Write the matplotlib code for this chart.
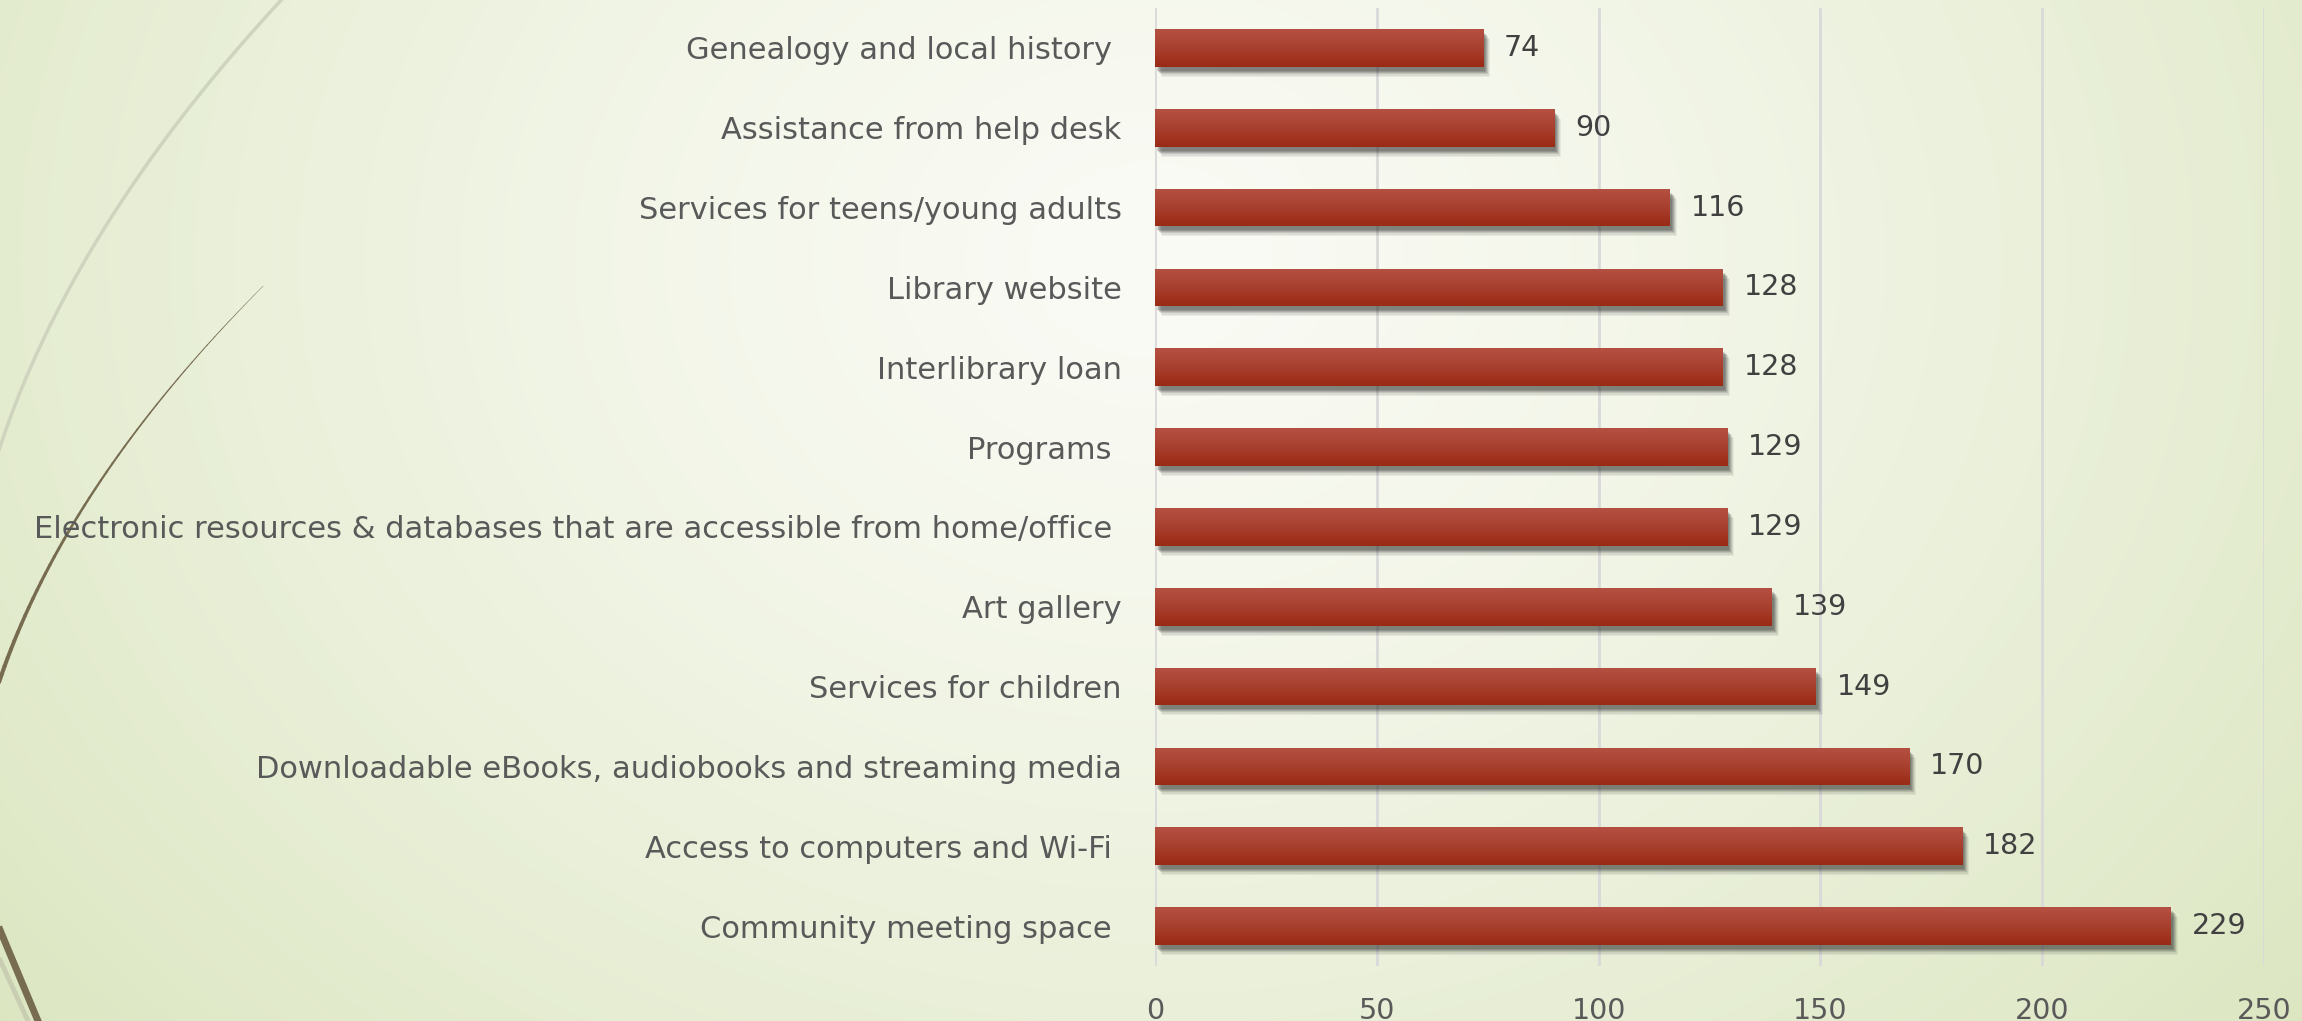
import numpy as np
import matplotlib
matplotlib.use('Agg')
import matplotlib.pyplot as plt
from matplotlib.transforms import ScaledTranslation

# Survey data (top to bottom as shown)
categories = [
    "Genealogy and local history ",
    "Assistance from help desk",
    "Services for teens/young adults",
    "Library website",
    "Interlibrary loan",
    "Programs ",
    "Electronic resources & databases that are accessible from home/office ",
    "Art gallery",
    "Services for children",
    "Downloadable eBooks, audiobooks and streaming media",
    "Access to computers and Wi-Fi ",
    "Community meeting space ",
]
values = [74, 90, 116, 128, 128, 129, 129, 139, 149, 170, 182, 229]
xticks = [0, 50, 100, 150, 200, 250]

W, H = 2302, 1021
DPI = 100
plt.rcParams['font.family'] = ['DejaVu Sans']

fig = plt.figure(figsize=(W / DPI, H / DPI), dpi=DPI)

# background: soft radial gradient, pale green
bg = fig.add_axes([0, 0, 1, 1], zorder=-10)
yy, xx = np.mgrid[0:H, 0:W]
r = np.sqrt(((xx - 1150) / 1.25) ** 2 + (yy - 260) ** 2) / 1250
r = np.clip(r, 0, 1)
inner = np.array([250, 251, 245]) / 255
outer = np.array([218, 229, 190]) / 255
img = inner + (outer - inner) * r[..., None] ** 1.3
bg.imshow(img, aspect='auto', extent=(0, W, H, 0))

# decorative wisps on the left (pixel positions of the template artwork)
light_y = [0, 97, 180, 250, 290, 383, 430]
light_x = [281, 200, 133, 90, 67, 33, 0]
ys = np.linspace(0, 460, 200)
bg.plot(np.polyval(np.polyfit(light_y, light_x, 2), ys), ys, color='#cfd4bf', lw=2.5)

dark_y = [286, 363, 390, 450, 483, 533, 600, 680]
dark_x = [260, 200, 167, 117, 100, 67, 33, 0]
cf = np.polyfit(dark_y, dark_x, 2)
ys = np.linspace(286, 700, 50)
for k in range(len(ys) - 1):
    seg = ys[k:k + 2]
    bg.plot(np.polyval(cf, seg), seg, color='#776b50',
            lw=0.3 + 2.8 * k / (len(ys) - 2), solid_capstyle='round')

bg.plot([0, 28], [960, 1021], color='#c9ceb2', lw=3.5)
bg.plot([0, 38], [930, 1021], color='#776b50', lw=5)
bg.set_xlim(0, W)
bg.set_ylim(H, 0)
bg.axis('off')

ax = fig.add_axes([1155 / W, 55 / H, 1109 / W, 958 / H])
ax.patch.set_alpha(0)

pos = np.arange(len(categories))
bh = 0.47

# soft shadow under bars
for dx, dy, al in [(7, -10, 0.06), (6, -9, 0.08), (5, -7, 0.12), (4, -6, 0.14), (3, -5, 0.16), (2, -4, 0.16)]:
    tr = ax.transData + ScaledTranslation(dx / DPI, dy / DPI, fig.dpi_scale_trans)
    ax.barh(pos, values, height=bh, color='#1e1e1e', alpha=al, transform=tr,
            linewidth=0, zorder=2)

bars = ax.barh(pos, values, height=bh, color='#a73a29', linewidth=0, zorder=3)

# vertical gradient inside each bar
top_c = np.array([180, 80, 66]) / 255
bot_c = np.array([154, 42, 20]) / 255
g = np.linspace(0, 1, 64)[:, None]
grad = top_c + (bot_c - top_c) * (g ** 1.2)[..., None]
for b in bars:
    x0, y0 = b.get_x(), b.get_y()
    im = ax.imshow(grad, aspect='auto', zorder=4,
                   extent=(x0, x0 + b.get_width(), y0 + b.get_height(), y0))
    im.set_clip_path(b)

for p, v in zip(pos, values):
    ax.annotate(str(v), (v, p), xytext=(15, 0), textcoords='offset points',
                ha='left', va='center', fontsize=20.5, color='#404040', zorder=5)

ax.set_xlim(0, 250)
ax.set_ylim(len(categories) - 0.5, -0.5)
ax.set_xticks(xticks)
ax.set_yticks(pos)
ax.set_yticklabels(categories)
ax.tick_params(axis='y', length=0, pad=24, labelsize=22, labelcolor='#595959')
ax.tick_params(axis='x', length=0, pad=22, labelsize=20.5, labelcolor='#595959')
ax.grid(axis='x', color='#d9d9d9', linewidth=2, zorder=0)
ax.set_axisbelow(True)
for s in ax.spines.values():
    s.set_visible(False)

fig.savefig('out.png', dpi=DPI)
